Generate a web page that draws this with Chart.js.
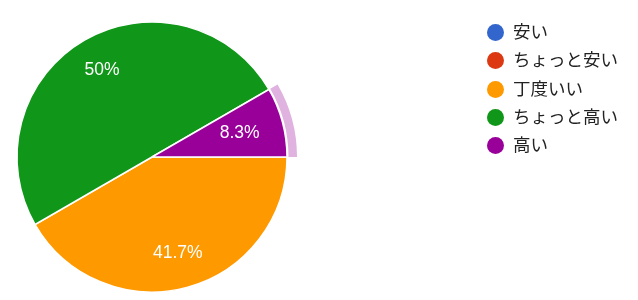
<!DOCTYPE html>
<html>
<head>
<meta charset="utf-8">
<script src="https://cdn.jsdelivr.net/npm/chart.js@4"></script>
<style>
  html, body { margin: 0; padding: 0; background: #fff; }
  #wrap { position: relative; width: 638px; height: 300px; }
  #legend { position: absolute; left: 487px; top: 0; margin: 0; padding: 0; list-style: none;
    font-family: Roboto, "Noto Sans CJK JP", sans-serif; font-size: 17.5px; color: #222; }
  #legend li { position: absolute; left: 0; white-space: nowrap; height: 20px; line-height: 20px; }
  #legend span.dot { position: absolute; left: 0; top: 2px; width: 17px; height: 17px; border-radius: 50%; }
  #legend span.txt { position: absolute; left: 26px; top: 0; }
</style>
</head>
<body>
<div id="wrap">
  <canvas id="chart" width="638" height="300"></canvas>
  <ul id="legend"></ul>
</div>
<script>
const labels = ["安い", "ちょっと安い", "丁度いい", "ちょっと高い", "高い"];
const counts = [0, 0, 5, 6, 1];
const colors = ["#3366cc", "#dc3912", "#ff9900", "#109618", "#990099"];
const highlighted = 4;

const total = counts.reduce((a, b) => a + b, 0);

// labels inside slices + hover ring on the highlighted slice
const sliceLabels = {
  id: "sliceLabels",
  beforeDatasetsDraw(chart) {
    const arc = chart.getDatasetMeta(0).data[highlighted];
    const ctx = chart.ctx;
    ctx.save();
    ctx.beginPath();
    ctx.arc(arc.x, arc.y, arc.outerRadius + 10, arc.startAngle, arc.endAngle);
    ctx.arc(arc.x, arc.y, arc.outerRadius + 1.5, arc.endAngle, arc.startAngle, true);
    ctx.closePath();
    ctx.fillStyle = "#e0b2e0";
    ctx.fill();
    ctx.restore();
  },
  afterDatasetsDraw(chart) {
    const ctx = chart.ctx;
    ctx.save();
    ctx.font = "17.5px 'Liberation Sans', Arial, sans-serif";
    ctx.fillStyle = "#ffffff";
    ctx.textAlign = "center";
    ctx.textBaseline = "middle";
    chart.getDatasetMeta(0).data.forEach((arc, i) => {
      if (!counts[i]) return;
      const mid = (arc.startAngle + arc.endAngle) / 2;
      const pct = parseFloat((counts[i] / total * 100).toFixed(1)) + "%";
      // keep the label further in when it would come close to the edge
      const w = ctx.measureText(pct).width;
      const r = Math.min(arc.outerRadius * 0.74, arc.outerRadius - 25 - w / 2 * Math.abs(Math.cos(mid)));
      ctx.fillText(pct, arc.x + Math.cos(mid) * r, arc.y + Math.sin(mid) * r);
    });
    ctx.restore();
  }
};

new Chart(document.getElementById("chart"), {
  type: "pie",
  data: {
    labels: labels,
    datasets: [{
      data: counts,
      backgroundColor: colors,
      borderColor: "#ffffff",
      borderWidth: 1.5
    }]
  },
  options: {
    responsive: false,
    animation: false,
    events: [],
    rotation: 90,
    radius: 135,
    layout: { padding: { left: 0, right: 334, top: 14, bottom: 0 } },
    plugins: {
      legend: { display: false },
      tooltip: { enabled: false }
    }
  },
  plugins: [sliceLabels]
});

// legend
const legend = document.getElementById("legend");
labels.forEach((name, i) => {
  const li = document.createElement("li");
  li.style.top = (22 + i * 28.3) + "px";
  li.innerHTML = '<span class="dot" style="background:' + colors[i] + '"></span><span class="txt">' + name + '</span>';
  legend.appendChild(li);
});
</script>
</body>
</html>
